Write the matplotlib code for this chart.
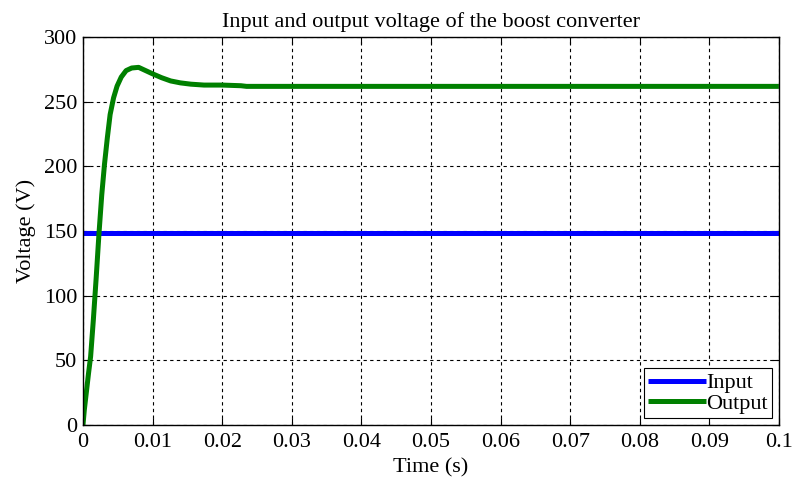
import matplotlib.pyplot as plt
import numpy as np

# values
t_input = [0.0, 0.1]
v_input = [148.5, 148.5]

t_output = [0.0, 0.0002, 0.0005, 0.0008, 0.0011, 0.0015, 0.0019, 0.0023, 0.0027,
            0.0031, 0.0035, 0.0039, 0.0044, 0.0049, 0.0055, 0.0062, 0.0070,
            0.0080, 0.0090, 0.0100, 0.0113, 0.0126, 0.0140, 0.0155, 0.0174,
            0.0200, 0.0227, 0.0235, 0.0300, 0.0500, 0.0700, 0.1000]
v_output = [0.0, 12.0, 26.0, 40.0, 53.0, 82.0, 114.0, 148.0, 178.0,
            202.0, 222.0, 240.0, 253.0, 262.0, 269.0, 274.0, 276.0,
            276.5, 274.0, 271.5, 268.5, 266.0, 264.5, 263.5, 262.8,
            262.8, 262.3, 261.8, 261.8, 261.8, 261.8, 261.8]

xticks = [0, 0.01, 0.02, 0.03, 0.04, 0.05, 0.06, 0.07, 0.08, 0.09, 0.1]
xticklabels = ["0", "0.01", "0.02", "0.03", "0.04", "0.05", "0.06", "0.07", "0.08", "0.09", "0.1"]
yticks = [0, 50, 100, 150, 200, 250, 300]


def main():
    plt.rcParams["font.family"] = ["Liberation Serif", "DejaVu Serif"]

    fig = plt.figure(figsize=(7.94, 4.8), dpi=100)
    ax = fig.add_axes([0.1045, 0.1146, 0.8765, 0.8084])

    ax.plot(t_input, v_input, color="#0000ff", linewidth=3.6, label="Input", solid_capstyle="butt")
    ax.plot(t_output, v_output, color="#008000", linewidth=3.6, label="Output", solid_capstyle="butt")

    ax.set_xlim(0, 0.1)
    ax.set_ylim(0, 300)
    ax.set_xticks(xticks)
    ax.set_xticklabels(xticklabels)
    ax.set_yticks(yticks)
    ax.tick_params(direction="in", top=True, right=True, labelsize=16, length=5, width=0.8)
    ax.tick_params(axis="x", pad=6)
    ax.tick_params(axis="y", pad=4)
    ax.grid(True, color="black", linestyle=(0, (3, 3)), linewidth=0.8)
    for s in ax.spines.values():
        s.set_linewidth(1.0)

    ax.set_title("Input and output voltage of the boost converter", fontsize=16, pad=7)
    ax.set_xlabel("Time (s)", fontsize=16, labelpad=4)
    ax.set_ylabel("Voltage (V)", fontsize=16, labelpad=6)

    leg = ax.legend(loc="lower right", fontsize=16, frameon=True, fancybox=False,
                    framealpha=1, edgecolor="black", borderpad=0.2, handlelength=2.6,
                    handletextpad=0.0, labelspacing=0.0, borderaxespad=0.3)
    leg.get_frame().set_linewidth(0.8)

    plt.savefig("out.png", dpi=100)


if __name__ == "__main__":
    main()
